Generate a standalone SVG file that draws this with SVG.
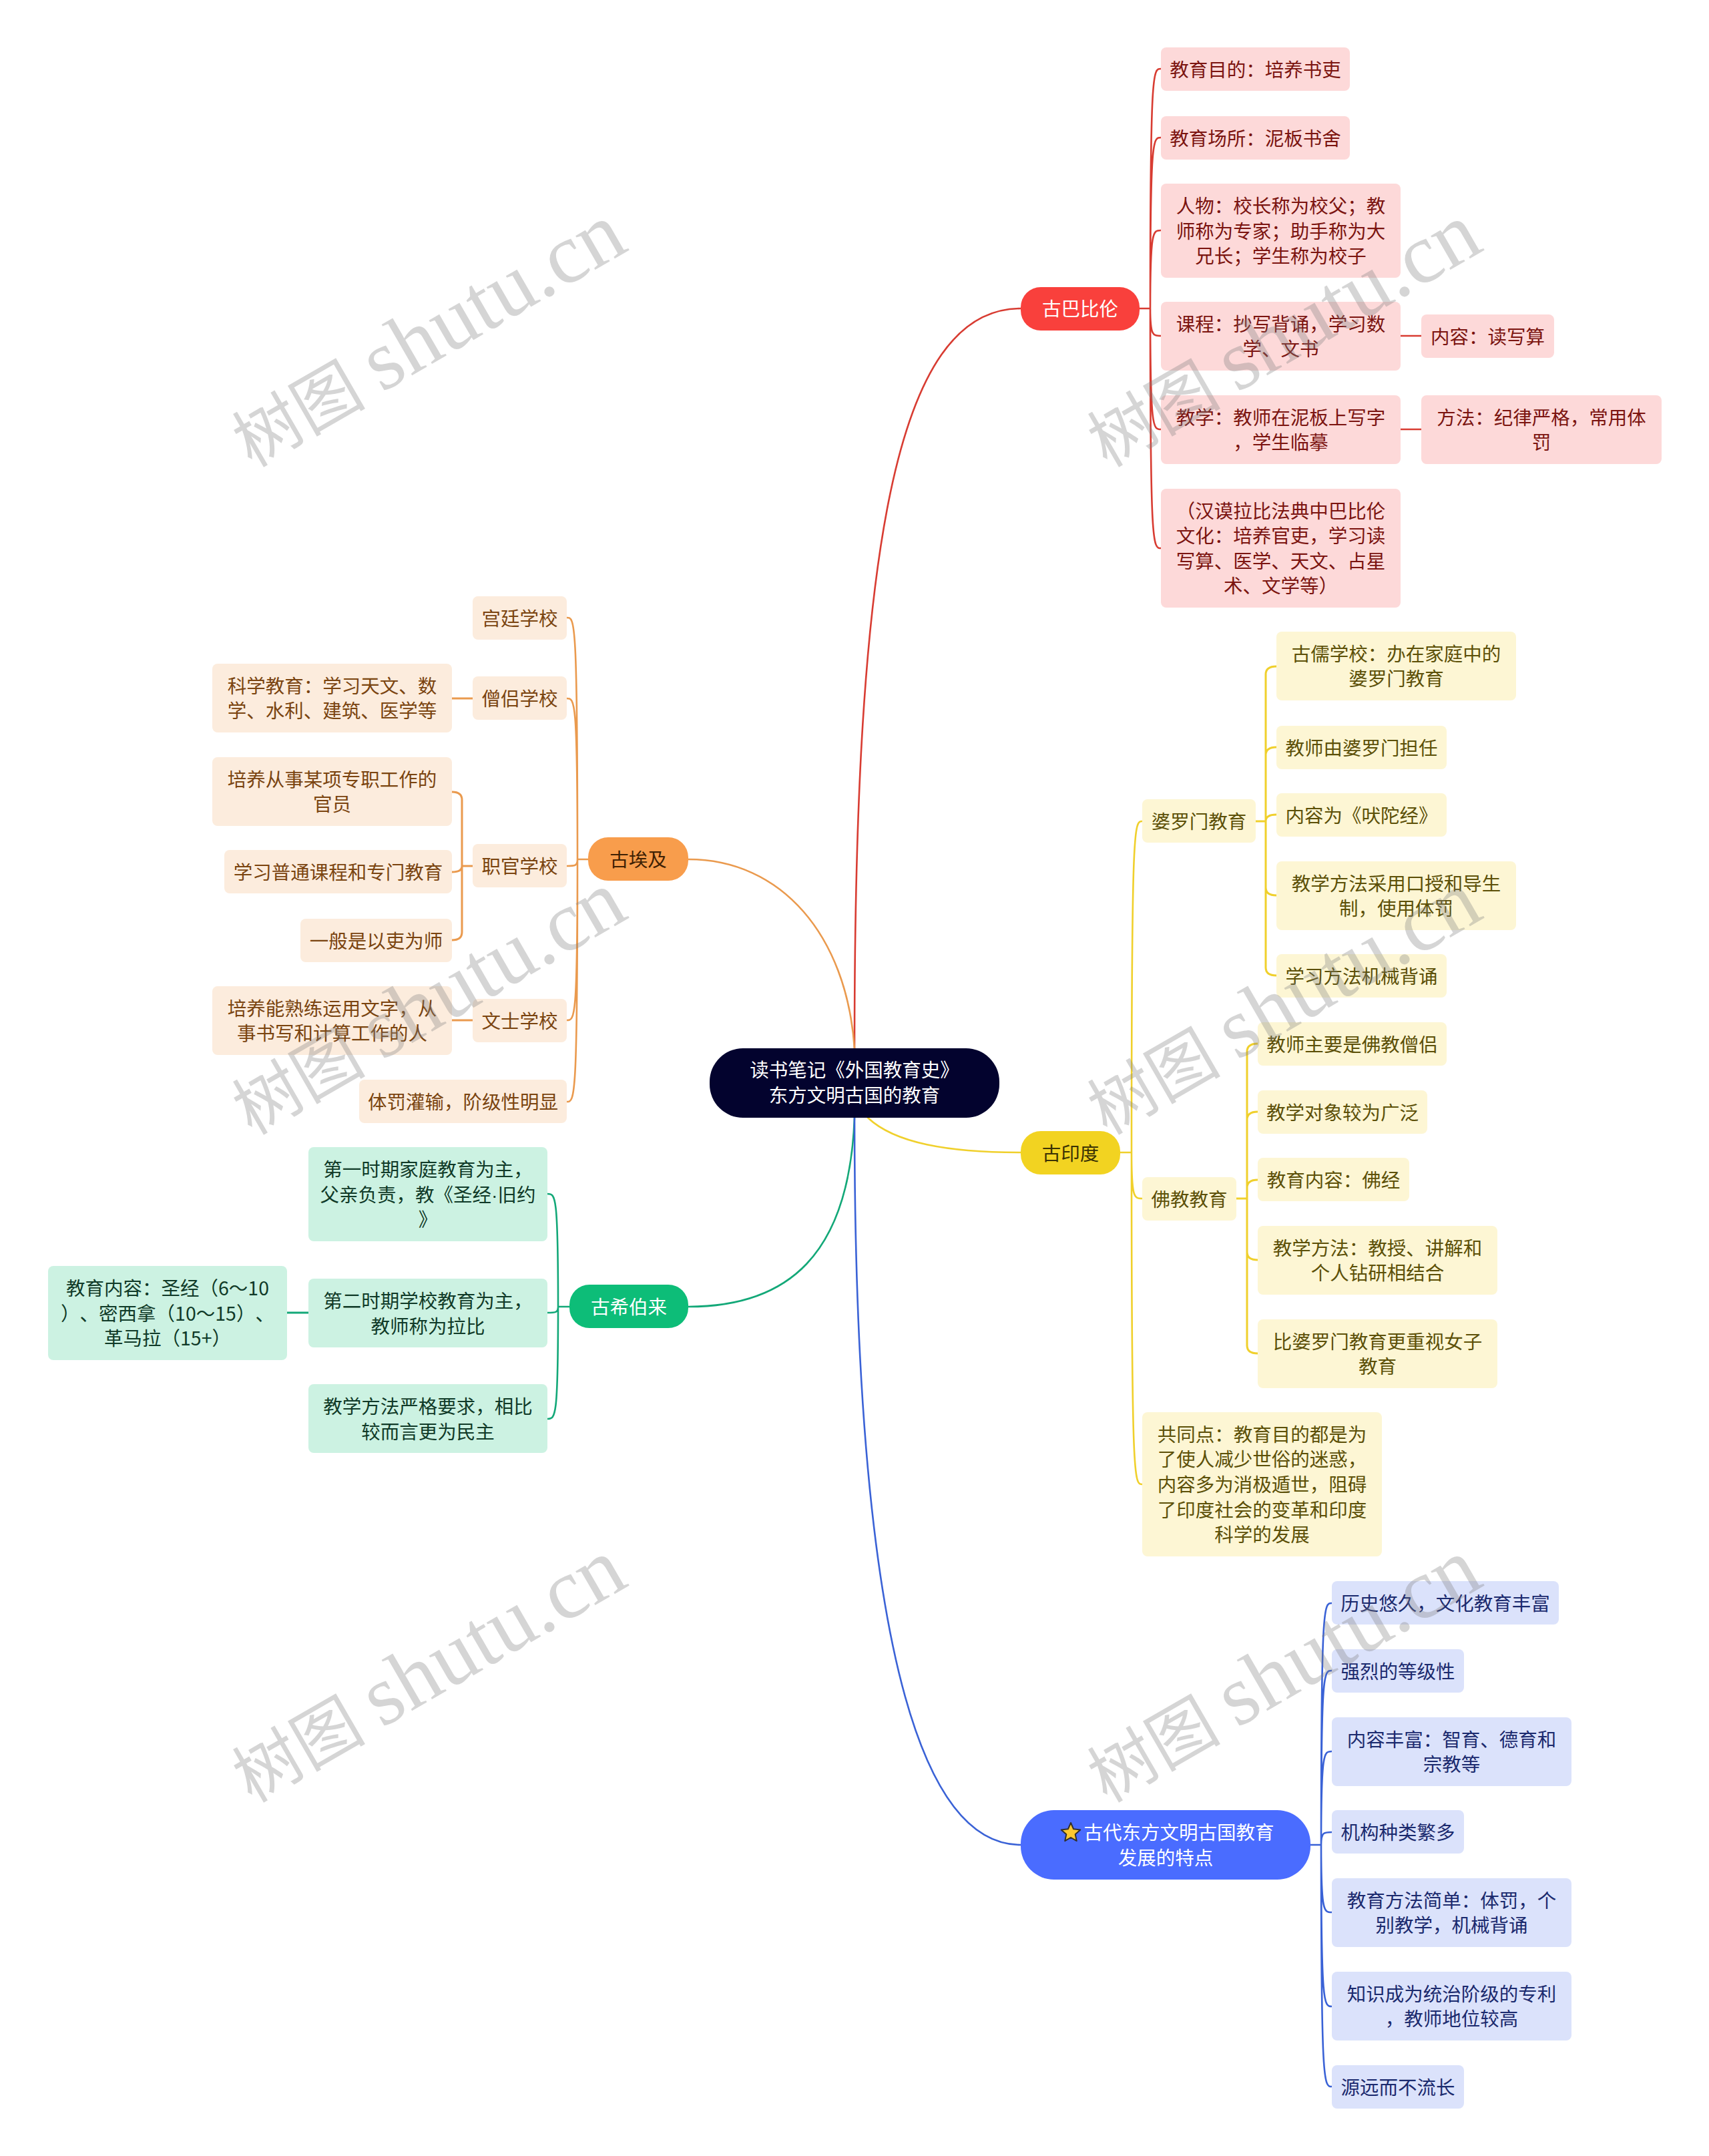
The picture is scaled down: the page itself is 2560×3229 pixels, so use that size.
<svg xmlns="http://www.w3.org/2000/svg" width="2560" height="3229" viewBox="0 0 2560 3229">
<style>
text{font-family:"Noto Sans CJK SC","Noto Sans",sans-serif;font-size:28.5px;text-anchor:middle;font-feature-settings:"chws" 0;text-spacing-trim:space-all}
g[id]:not(#watermarks) text{transform:translateY(1px)}
#connectors path{fill:none;stroke-width:2.6;stroke-linecap:round}
#connectors path.t{stroke-width:3}
.lr{stroke:#d83c32}.lo{stroke:#ea9a4e}.ly{stroke:#f0d02c}.lg{stroke:#13a878}.lb{stroke:#3a62d6}
.nr rect{fill:#fdd9d9}.nr text{fill:#7b1410}
.no rect{fill:#fcecdd}.no text{fill:#7a4410}
.ny rect{fill:#fdf6d4}.ny text{fill:#5c5008}
.ng rect{fill:#ccf2e2}.ng text{fill:#103a28}
.nb rect{fill:#dbe2fb}.nb text{fill:#1b2a6e}
.pw text{fill:#fff}
.wm{fill:#7f7f7f;fill-opacity:.33;text-anchor:start;font-family:"Liberation Serif","Noto Sans CJK SC",serif;font-size:100px}
.wm .la{font-size:128px}
.dot{font-family:"Liberation Sans",sans-serif}
</style>
<g id="connectors">
<path class="lr" d="M1280 1570C1280 830 1340 462 1529 462"/>
<path class="lo" d="M1031 1287C1170 1287 1268 1400 1280 1570"/>
<path class="ly" d="M1300 1674C1340 1712 1420 1726 1529 1726"/>
<path class="lg" d="M1031 1957C1180 1957 1272 1880 1280 1674"/>
<path class="lb" d="M1280 1674C1280 2330 1350 2763 1529 2763"/>
<path class="lr" d="M1707 462H1723M1723 462C1723 103 1727 103 1739 103M1723 462C1723 206 1727 206 1739 206M1723 462C1723 345 1727 345 1739 345M1723 462C1723 503 1727 503 1739 503M1723 462C1723 643 1727 643 1739 643M1723 462C1723 821 1727 821 1739 821M2098 503H2129M2098 643H2129"/>
<path class="ly" d="M1678 1726H1695M1695 1726C1695 1230 1699 1230 1711 1230M1695 1726C1695 1795 1699 1795 1711 1795M1695 1726C1695 2223 1699 2223 1711 2223"/>
<path class="ly t" d="M1881 1230H1896M1896 1230V1010Q1896 998 1912 998M1896 1230V1131Q1896 1119 1912 1119M1896 1230Q1896 1220 1912 1220M1896 1230V1329Q1896 1341 1912 1341M1896 1230V1449Q1896 1461 1912 1461"/>
<path class="ly t" d="M1852 1795H1868M1868 1795V1575Q1868 1563 1884 1563M1868 1795V1677Q1868 1665 1884 1665M1868 1795V1779Q1868 1767 1884 1767M1868 1795V1875Q1868 1887 1884 1887M1868 1795V2015Q1868 2027 1884 2027"/>
<path class="lb" d="M1963 2763H1979M1979 2763C1979 2401 1983 2401 1995 2401M1979 2763C1979 2502 1983 2502 1995 2502M1979 2763C1979 2623 1983 2623 1995 2623M1979 2763C1979 2744 1983 2744 1995 2744M1979 2763C1979 2864 1983 2864 1995 2864M1979 2763C1979 3005 1983 3005 1995 3005M1979 2763C1979 3125 1983 3125 1995 3125"/>
<path class="lo" d="M881 1287H865M865 1287C865 925 861 925 849 925M865 1287C865 1046 861 1046 849 1046M865 1287C865 1297 861 1297 849 1297M865 1287C865 1528 861 1528 849 1528M865 1287C865 1650 861 1650 849 1650"/>
<path class="lo t" d="M708 1046H677M708 1297H692M692 1297V1198Q692 1186 677 1186M692 1297Q692 1306 677 1306M692 1297V1396Q692 1408 677 1408M708 1528H677"/>
<path class="lg" d="M853 1957H836M836 1957C836 1788 832 1788 820 1788M836 1957C836 1966 832 1966 820 1966M836 1957C836 2125 832 2125 820 2125"/>
<path class="lg t" d="M462 1966H430"/>
</g>
<g id="root"><rect x="1063" y="1570" width="434" height="104" rx="50" fill="#03032e"/><text fill="#fff"><tspan x="1280" y="1612">读书笔记《外国教育史》</tspan><tspan x="1280" y="1650">东方文明古国的教育</tspan></text></g>
<g id="babylon" class="pw"><rect x="1529" y="430" width="178" height="65" rx="30" fill="#f9403c"/><text x="1618" y="472">古巴比伦</text></g>
<g id="b1" class="nr"><rect x="1739" y="71" width="283" height="65" rx="8"/><text x="1880.5" y="113.5">教育目的：培养书吏</text></g>
<g id="b2" class="nr"><rect x="1739" y="174" width="283" height="65" rx="8"/><text x="1880.5" y="216.5">教育场所：泥板书舍</text></g>
<g id="b3" class="nr"><rect x="1739" y="275" width="359" height="141" rx="8"/><text><tspan x="1918.5" y="317.9">人物：校长称为校父；教</tspan><tspan x="1918.5" y="355.5">师称为专家；助手称为大</tspan><tspan x="1918.5" y="393.1">兄长；学生称为校子</tspan></text></g>
<g id="b4" class="nr"><rect x="1739" y="452" width="359" height="103" rx="8"/><text><tspan x="1918.5" y="494.7">课程：抄写背诵，学习数</tspan><tspan x="1918.5" y="532.3">学、文书</tspan></text></g>
<g id="b4a" class="nr"><rect x="2129" y="471" width="199" height="65" rx="8"/><text x="2228.5" y="513.5">内容：读写算</text></g>
<g id="b5" class="nr"><rect x="1739" y="592" width="359" height="103" rx="8"/><text><tspan x="1918.5" y="634.7">教学：教师在泥板上写字</tspan><tspan x="1918.5" y="672.3">，学生临摹</tspan></text></g>
<g id="b5a" class="nr"><rect x="2129" y="592" width="360" height="103" rx="8"/><text><tspan x="2309" y="634.7">方法：纪律严格，常用体</tspan><tspan x="2309" y="672.3">罚</tspan></text></g>
<g id="b6" class="nr"><rect x="1739" y="732" width="359" height="178" rx="8"/><text><tspan x="1918.5" y="774.6">（汉谟拉比法典中巴比伦</tspan><tspan x="1918.5" y="812.2">文化：培养官吏，学习读</tspan><tspan x="1918.5" y="849.8">写算、医学、天文、占星</tspan><tspan x="1918.5" y="887.4">术、文学等）</tspan></text></g>
<g id="india" class="ny"><rect x="1529" y="1694" width="149" height="65" rx="30" style="fill:#f2d321"/><text x="1603.5" y="1736.5" style="fill:#3a3204">古印度</text></g>
<g id="i1" class="ny"><rect x="1711" y="1197" width="170" height="65" rx="8"/><text x="1796" y="1239.5">婆罗门教育</text></g>
<g id="i1a" class="ny"><rect x="1912" y="946" width="359" height="103" rx="8"/><text><tspan x="2091.5" y="988.7">古儒学校：办在家庭中的</tspan><tspan x="2091.5" y="1026.3">婆罗门教育</tspan></text></g>
<g id="i1b" class="ny"><rect x="1912" y="1087" width="255" height="65" rx="8"/><text x="2039.5" y="1129.5">教师由婆罗门担任</text></g>
<g id="i1c" class="ny"><rect x="1912" y="1188" width="255" height="65" rx="8"/><text x="2039.5" y="1230.5">内容为《吠陀经》</text></g>
<g id="i1d" class="ny"><rect x="1912" y="1290" width="359" height="103" rx="8"/><text><tspan x="2091.5" y="1332.7">教学方法采用口授和导生</tspan><tspan x="2091.5" y="1370.3">制，使用体罚</tspan></text></g>
<g id="i1e" class="ny"><rect x="1912" y="1429" width="255" height="65" rx="8"/><text x="2039.5" y="1471.5">学习方法机械背诵</text></g>
<g id="i2" class="ny"><rect x="1711" y="1763" width="141" height="65" rx="8"/><text x="1781.5" y="1805.5">佛教教育</text></g>
<g id="i2a" class="ny"><rect x="1884" y="1531" width="283" height="65" rx="8"/><text x="2025.5" y="1573.5">教师主要是佛教僧侣</text></g>
<g id="i2b" class="ny"><rect x="1884" y="1633" width="254" height="65" rx="8"/><text x="2011" y="1675.5">教学对象较为广泛</text></g>
<g id="i2c" class="ny"><rect x="1884" y="1734" width="227" height="65" rx="8"/><text x="1997.5" y="1776.5">教育内容：佛经</text></g>
<g id="i2d" class="ny"><rect x="1884" y="1836" width="359" height="103" rx="8"/><text><tspan x="2063.5" y="1878.7">教学方法：教授、讲解和</tspan><tspan x="2063.5" y="1916.3">个人钻研相结合</tspan></text></g>
<g id="i2e" class="ny"><rect x="1884" y="1976" width="359" height="103" rx="8"/><text><tspan x="2063.5" y="2018.7">比婆罗门教育更重视女子</tspan><tspan x="2063.5" y="2056.3">教育</tspan></text></g>
<g id="i3" class="ny"><rect x="1711" y="2115" width="359" height="216" rx="8"/><text><tspan x="1890.5" y="2157.8">共同点：教育目的都是为</tspan><tspan x="1890.5" y="2195.4">了使人减少世俗的迷惑，</tspan><tspan x="1890.5" y="2233">内容多为消极遁世，阻碍</tspan><tspan x="1890.5" y="2270.6">了印度社会的变革和印度</tspan><tspan x="1890.5" y="2308.2">科学的发展</tspan></text></g>
<g id="features" class="pw"><rect x="1529" y="2711" width="434" height="104" rx="50" fill="#4a6cff"/><polygon points="1604,2730 1608.1,2739.3 1618.3,2740.4 1610.7,2747.2 1612.8,2757.1 1604,2752 1595.2,2757.1 1597.3,2747.2 1589.7,2740.4 1599.9,2739.3" fill="#fdc830" stroke="#33302a" stroke-width="2" stroke-linejoin="round"/><text><tspan x="1766" y="2754">古代东方文明古国教育</tspan><tspan x="1746" y="2792">发展的特点</tspan></text></g>
<g id="f1" class="nb"><rect x="1995" y="2368" width="340" height="65" rx="8"/><text x="2165" y="2410.5">历史悠久，文化教育丰富</text></g>
<g id="f2" class="nb"><rect x="1995" y="2470" width="198" height="65" rx="8"/><text x="2094" y="2512.5">强烈的等级性</text></g>
<g id="f3" class="nb"><rect x="1995" y="2572" width="359" height="103" rx="8"/><text><tspan x="2174.5" y="2614.7">内容丰富：智育、德育和</tspan><tspan x="2174.5" y="2652.3">宗教等</tspan></text></g>
<g id="f4" class="nb"><rect x="1995" y="2711" width="198" height="65" rx="8"/><text x="2094" y="2753.5">机构种类繁多</text></g>
<g id="f5" class="nb"><rect x="1995" y="2813" width="359" height="103" rx="8"/><text><tspan x="2174.5" y="2855.7">教育方法简单：体罚，个</tspan><tspan x="2174.5" y="2893.3">别教学，机械背诵</tspan></text></g>
<g id="f6" class="nb"><rect x="1995" y="2953" width="359" height="103" rx="8"/><text><tspan x="2174.5" y="2995.7">知识成为统治阶级的专利</tspan><tspan x="2174.5" y="3033.3">，教师地位较高</tspan></text></g>
<g id="f7" class="nb"><rect x="1995" y="3093" width="198" height="65" rx="8"/><text x="2094" y="3135.5">源远而不流长</text></g>
<g id="egypt" class="no"><rect x="881" y="1254" width="150" height="65" rx="30" style="fill:#f89d4c"/><text x="956" y="1296.5" style="fill:#3f2104">古埃及</text></g>
<g id="e1" class="no"><rect x="708" y="893" width="141" height="65" rx="8"/><text x="778.5" y="935.5">宫廷学校</text></g>
<g id="e2" class="no"><rect x="708" y="1013" width="141" height="65" rx="8"/><text x="778.5" y="1055.5">僧侣学校</text></g>
<g id="e2a" class="no"><rect x="318" y="994" width="359" height="103" rx="8"/><text><tspan x="497.5" y="1036.7">科学教育：学习天文、数</tspan><tspan x="497.5" y="1074.3">学、水利、建筑、医学等</tspan></text></g>
<g id="e3" class="no"><rect x="708" y="1264" width="141" height="65" rx="8"/><text x="778.5" y="1306.5">职官学校</text></g>
<g id="e3a" class="no"><rect x="318" y="1134" width="359" height="103" rx="8"/><text><tspan x="497.5" y="1176.7">培养从事某项专职工作的</tspan><tspan x="497.5" y="1214.3">官员</tspan></text></g>
<g id="e3b" class="no"><rect x="336" y="1273" width="341" height="65" rx="8"/><text x="506.5" y="1315.5">学习普通课程和专门教育</text></g>
<g id="e3c" class="no"><rect x="450" y="1376" width="227" height="65" rx="8"/><text x="563.5" y="1418.5">一般是以吏为师</text></g>
<g id="e4" class="no"><rect x="708" y="1496" width="141" height="65" rx="8"/><text x="778.5" y="1538.5">文士学校</text></g>
<g id="e4a" class="no"><rect x="318" y="1477" width="359" height="103" rx="8"/><text><tspan x="497.5" y="1519.7">培养能熟练运用文字，从</tspan><tspan x="497.5" y="1557.3">事书写和计算工作的人</tspan></text></g>
<g id="e5" class="no"><rect x="538" y="1617" width="311" height="65" rx="8"/><text x="693.5" y="1659.5">体罚灌输，阶级性明显</text></g>
<g id="hebrew" class="pw"><rect x="853" y="1924" width="178" height="65" rx="30" fill="#0dbd78"/><text x="942" y="1966.5">古希伯来</text></g>
<g id="h1" class="ng"><rect x="462" y="1718" width="358" height="141" rx="8"/><text><tspan x="641" y="1760.9">第一时期家庭教育为主，</tspan><tspan x="641" y="1798.5">父亲负责，教《圣经<tspan class="dot">·</tspan>旧约</tspan><tspan x="641" y="1836.1">》</tspan></text></g>
<g id="h2" class="ng"><rect x="462" y="1915" width="358" height="103" rx="8"/><text><tspan x="641" y="1958.2">第二时期学校教育为主，</tspan><tspan x="641" y="1995.8">教师称为拉比</tspan></text></g>
<g id="h2a" class="ng"><rect x="72" y="1896" width="358" height="141" rx="8"/><text><tspan x="251" y="1938.9">教育内容：圣经（6～10</tspan><tspan x="251" y="1976.5">）、密西拿（10～15）、</tspan><tspan x="251" y="2014.1">革马拉（15+）</tspan></text></g>
<g id="h3" class="ng"><rect x="462" y="2073" width="358" height="103" rx="8"/><text><tspan x="641" y="2116.2">教学方法严格要求，相比</tspan><tspan x="641" y="2153.8">较而言更为民主</tspan></text></g>
<g id="watermarks">
<text class="wm" transform="translate(377 701) rotate(-30)">树图 <tspan class="la">shutu.cn</tspan></text>
<text class="wm" transform="translate(1658 701) rotate(-30)">树图 <tspan class="la">shutu.cn</tspan></text>
<text class="wm" transform="translate(377 1701) rotate(-30)">树图 <tspan class="la">shutu.cn</tspan></text>
<text class="wm" transform="translate(1658 1701) rotate(-30)">树图 <tspan class="la">shutu.cn</tspan></text>
<text class="wm" transform="translate(377 2701) rotate(-30)">树图 <tspan class="la">shutu.cn</tspan></text>
<text class="wm" transform="translate(1658 2701) rotate(-30)">树图 <tspan class="la">shutu.cn</tspan></text>
</g>
</svg>
